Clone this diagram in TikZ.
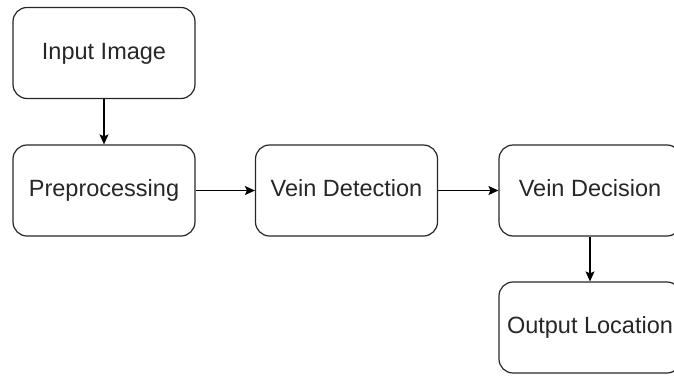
\documentclass[tikz,border=0pt]{standalone}
\usepackage{fontspec}
\setmainfont{Liberation Sans}
\usetikzlibrary{arrows.meta}
\begin{document}
\begin{tikzpicture}[x=1pt,y=-1pt,
  box/.style={draw=black!85,line width=1.2pt,rounded corners=14pt,minimum width=182pt,minimum height=91pt,inner sep=0pt,text height=16.5pt,text depth=4.5pt,font=\fontsize{23.5}{28}\selectfont,text=black!85},
  conn/.style={draw=black,line width=1.1pt,-{Stealth[length=10pt,width=9pt,inset=2pt]}}]
\useasboundingbox (0,0) rectangle (674,375);
\clip (0,0) rectangle (674,375);
\node[box] (inp) at (104,53) {Input Image};
\node[box] (pre) at (104,190.5) {Preprocessing};
\node[box] (det) at (346.5,190.5) {Vein Detection};
\node[box] (dec) at (590,190.5) {Vein Decision};
\node[box] (out) at (590,327.5) {Output Location};
\draw[conn] (inp) -- (pre);
\draw[conn] (pre) -- (det);
\draw[conn] (det) -- (dec);
\draw[conn] (dec) -- (out);
\end{tikzpicture}
\end{document}
